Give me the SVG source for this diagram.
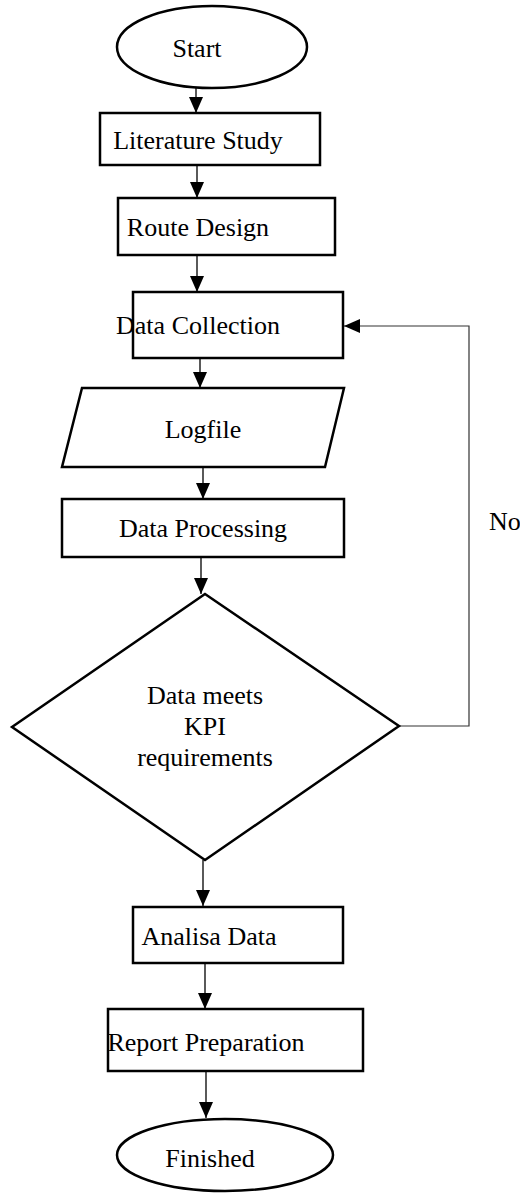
<svg xmlns="http://www.w3.org/2000/svg" width="520" height="1195" viewBox="0 0 520 1195">
<style>
.shape{fill:#fff;stroke:#000;stroke-width:2.5}
.lbl{font-family:"Liberation Serif","Times New Roman",serif;font-size:26px;fill:#000;text-anchor:middle}
.conn{fill:none;stroke:#000;stroke-width:1.3}
.fb{fill:none;stroke:#333;stroke-width:1.2}
</style>
<defs>
<marker id="ah" markerWidth="16" markerHeight="14" refX="16" refY="7" orient="auto" markerUnits="userSpaceOnUse" viewBox="0 0 16 14">
<path d="M0,0 L16,7 L0,14 Z" fill="#000"/>
</marker>
</defs>
<rect width="520" height="1195" fill="#fff"/>
<g id="connectors">
<path class="conn" d="M196,88 V113" marker-end="url(#ah)"/>
<path class="conn" d="M197,165 V198" marker-end="url(#ah)"/>
<path class="conn" d="M197,255 V292" marker-end="url(#ah)"/>
<path class="conn" d="M200,358 V388" marker-end="url(#ah)"/>
<path class="conn" d="M203,467 V499" marker-end="url(#ah)"/>
<path class="conn" d="M201,557 V594" marker-end="url(#ah)"/>
<path class="conn" d="M203,860 V906" marker-end="url(#ah)"/>
<path class="conn" d="M205,963 V1009" marker-end="url(#ah)"/>
<path class="conn" d="M206,1071 V1118" marker-end="url(#ah)"/>
<path class="fb" d="M399,726 H469 V326 H344" marker-end="url(#ah)"/>
<text class="lbl" x="489" y="530" style="text-anchor:start">No</text>
</g>
<g id="start">
<ellipse class="shape" cx="212" cy="47" rx="95" ry="41"/>
<text class="lbl" x="197" y="57">Start</text>
</g>
<g id="literature">
<rect class="shape" x="100" y="113" width="220" height="52"/>
<text class="lbl" x="198" y="149">Literature Study</text>
</g>
<g id="route">
<rect class="shape" x="118" y="198" width="217" height="57"/>
<text class="lbl" x="198" y="236">Route Design</text>
</g>
<g id="collection">
<rect class="shape" x="133" y="292" width="210" height="66"/>
<text class="lbl" x="198" y="334">Data Collection</text>
</g>
<g id="logfile">
<polygon class="shape" points="82,388 344,388 325,467 62,467"/>
<text class="lbl" x="203" y="438">Logfile</text>
</g>
<g id="processing">
<rect class="shape" x="62" y="499" width="282" height="58"/>
<text class="lbl" x="203" y="537">Data Processing</text>
</g>
<g id="decision">
<polygon class="shape" points="205,594 399,726 205,860 12,727"/>
<text class="lbl" x="205" y="704">Data meets</text>
<text class="lbl" x="205" y="735">KPI</text>
<text class="lbl" x="205" y="766">requirements</text>
</g>
<g id="analisa">
<rect class="shape" x="133" y="907" width="210" height="56"/>
<text class="lbl" x="209" y="945">Analisa Data</text>
</g>
<g id="report">
<rect class="shape" x="108" y="1009" width="255" height="62"/>
<text class="lbl" x="206" y="1051">Report Preparation</text>
</g>
<g id="finished">
<ellipse class="shape" cx="225" cy="1155" rx="108" ry="36"/>
<text class="lbl" x="210" y="1167">Finished</text>
</g>
</svg>
